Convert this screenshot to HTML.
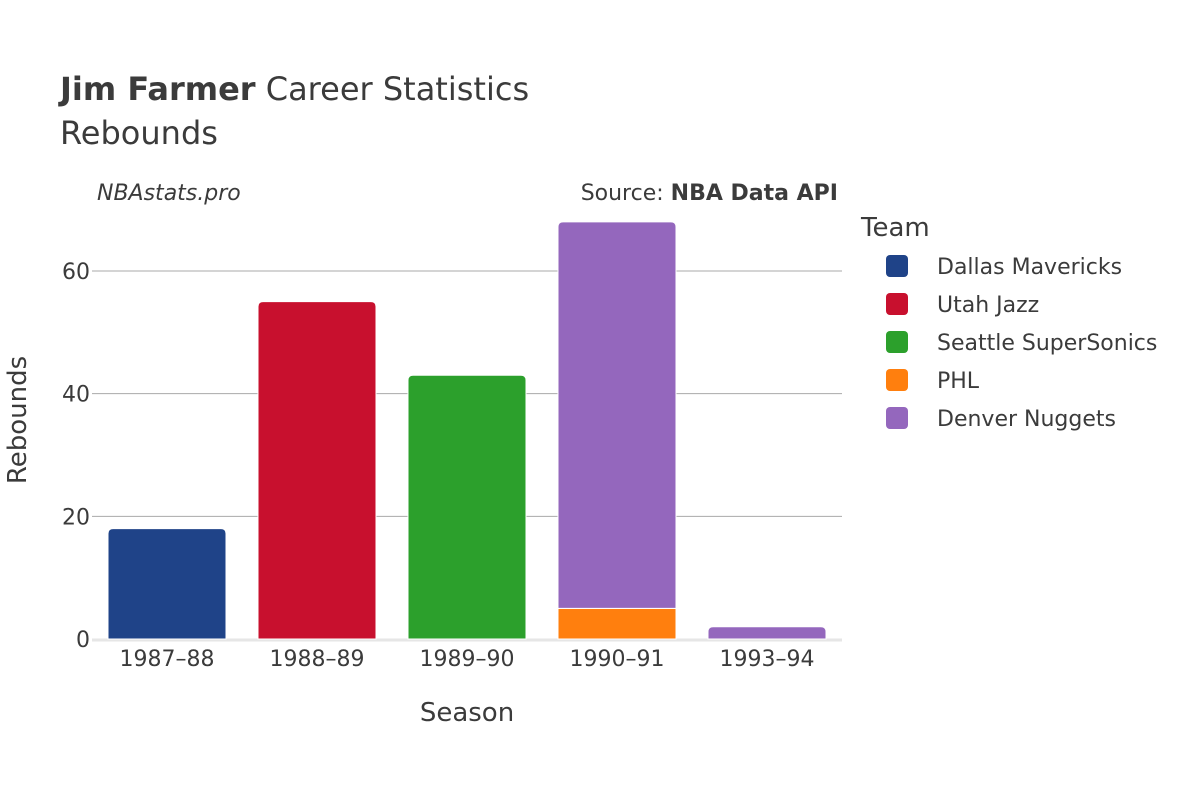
<!DOCTYPE html>
<html><head><meta charset="utf-8">
<style>
body{margin:0;background:#fff;}
svg text{font-family:"DejaVu Sans","Liberation Sans",sans-serif;fill:#3b3b3b;}
</style></head>
<body>
<svg id="chart" width="1200" height="800" xmlns="http://www.w3.org/2000/svg">
  <text x="60" y="100" font-size="32"><tspan font-weight="bold">Jim Farmer</tspan> Career Statistics</text>
  <text x="60" y="144" font-size="32">Rebounds</text>
  <text x="97" y="200" font-size="22" font-style="italic">NBAstats.pro</text>
  <text x="838" y="200" font-size="22" text-anchor="end">Source: <tspan font-weight="bold">NBA Data API</tspan></text>
  <g id="grid"></g>
  <g id="bars"></g>
  <g id="xticks"></g>
  <text x="467" y="721" font-size="26" text-anchor="middle">Season</text>
  <text transform="translate(26,420) rotate(-90)" font-size="26" text-anchor="middle">Rebounds</text>
  <g id="legend"></g>
</svg>
<script>
const seasons = ["1987–88","1988–89","1989–90","1990–91","1993–94"];
const teams = ["Dallas Mavericks","Utah Jazz","Seattle SuperSonics","PHL","Denver Nuggets"];
const colors = ["#1f4388","#c8102e","#2ca02c","#ff7f0e","#9467bd"];
const dallas = [18,0,0,0,0];
const utah = [0,55,0,0,0];
const seattle = [0,0,43,0,0];
const phl = [0,0,0,5,0];
const denver = [0,0,0,63,2];
const series = [dallas,utah,seattle,phl,denver];
const yTicks = [0,20,40,60];

const NS="http://www.w3.org/2000/svg";
const x0=92,x1=842,yBase=639,pxPer=(639-271)/60;
const band=(x1-x0)/seasons.length, bw=118;
const y=v=>yBase-v*pxPer;
const xc=i=>x0+band*(i+0.5);
function mk(tag,attrs,parent){const e=document.createElementNS(NS,tag);for(const k in attrs)e.setAttribute(k,attrs[k]);parent.appendChild(e);return e;}
const grid=document.getElementById('grid');
yTicks.forEach(t=>{
  if(t>0){const l=mk('line',{x1:x0,x2:x1,y1:y(t),y2:y(t),stroke:'#aaa','stroke-width':1},grid);
  
  }
  const tx=mk('text',{x:x0-2,y:y(t)+8,'font-size':22,'text-anchor':'end'},grid);
  tx.textContent=t;
  
  
});
const zl=mk('line',{x1:x0,x2:x1,y1:yBase+1,y2:yBase+1,stroke:'#e6e6e6','stroke-width':3},grid);


const bars=document.getElementById('bars');
seasons.forEach((s,i)=>{
  let cum=0;
  let topIdx=-1;series.forEach((ser,k)=>{if(ser[i]>0)topIdx=k;});
  series.forEach((ser,k)=>{
    const v=ser[i]; if(!v)return;
    const yt=y(cum+v), yb=y(cum), L=xc(i)-bw/2, R=xc(i)+bw/2;
    const r=k===topIdx?Math.min(5,yb-yt):0;
    const d=`M${L},${yb}L${L},${yt+r}Q${L},${yt} ${L+r},${yt}L${R-r},${yt}Q${R},${yt} ${R},${yt+r}L${R},${yb}Z`;
    const p=mk('path',{d:d,fill:colors[k],stroke:'#fff','stroke-width':1},bars);
    
    
    cum+=v;
  });
  const tx=mk('text',{x:xc(i),y:666,'font-size':22,'text-anchor':'middle'},document.getElementById('xticks'));
  tx.textContent=s;
  
  
});
const lg=document.getElementById('legend');
const lt=mk('text',{x:861,y:236,'font-size':26},lg);
lt.textContent='Team';


teams.forEach((t,k)=>{
  const g=mk('g',{},lg);
  
  
  const cy=266+38*k;
  mk('rect',{x:886,y:cy-11,width:22,height:22,rx:4,fill:colors[k]},g);
  const tx=mk('text',{x:937,y:cy+8,'font-size':22},g);
  tx.textContent=t;
});
</script>
</body></html>
